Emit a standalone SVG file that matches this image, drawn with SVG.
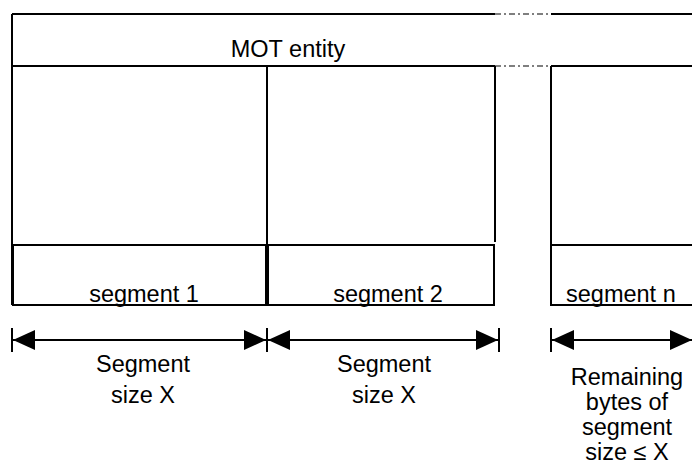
<svg xmlns="http://www.w3.org/2000/svg" width="692" height="468" viewBox="0 0 692 468">
<style>
.ln{stroke:#000;stroke-width:2;fill:none}
.ds{stroke:#555;stroke-width:1.5;fill:none;stroke-dasharray:6 3 2 3}
.t{font-family:"Liberation Sans",Arial,sans-serif;font-size:23.5px;fill:#000}
.m{text-anchor:middle}
</style>
<defs>
<marker id="ah" viewBox="0 0 22 20" refX="22" refY="10" markerWidth="22" markerHeight="20" markerUnits="userSpaceOnUse" orient="auto-start-reverse">
<path d="M0,0 L22,10 L0,20 Z" fill="#000"/>
</marker>
</defs>
<g id="mot-entity">
<path class="ln" d="M12,14 H495 M551,14 H692 M12,14 V305 M12,66 H495 M551,66 H692"/>
<path class="ds" d="M495,14 H551 M495,66 H551"/>
<text class="t m" x="288" y="57">MOT entity</text>
</g>
<g id="part1"><path class="ln" d="M267,66 V245"/></g>
<g id="part2"><path class="ln" d="M495,66 V242"/></g>
<g id="partn"><path class="ln" d="M551,66 V245"/></g>
<g id="segment1">
<rect class="ln" x="13" y="245" width="253" height="60"/>
<text class="t m" x="144" y="302">segment 1</text>
</g>
<g id="segment2">
<rect class="ln" x="268" y="245" width="226" height="60"/>
<text class="t m" x="388" y="302">segment 2</text>
</g>
<g id="segmentn">
<path class="ln" d="M692,245 H551 V305 H692"/>
<text class="t" x="566" y="302">segment n</text>
</g>
<g id="connectors">
<path class="ln" d="M13,340 H266" marker-start="url(#ah)" marker-end="url(#ah)"/>
<path class="ln" d="M268,340 H498" marker-start="url(#ah)" marker-end="url(#ah)"/>
<path class="ln" d="M552,340 H692" marker-start="url(#ah)" marker-end="url(#ah)"/>
<path class="ln" d="M12,328 V352 M267,328 V352 M499,328 V352 M551,328 V352"/>
</g>
<g id="label1">
<text class="t m" x="143" y="372">Segment</text>
<text class="t m" x="143" y="403">size X</text>
</g>
<g id="label2">
<text class="t m" x="384" y="372">Segment</text>
<text class="t m" x="384" y="403">size X</text>
</g>
<g id="labeln">
<text class="t m" x="627" y="385">Remaining</text>
<text class="t m" x="627" y="410">bytes of</text>
<text class="t m" x="627" y="435">segment</text>
<text class="t m" x="627" y="460">size ≤ X</text>
</g>
</svg>
